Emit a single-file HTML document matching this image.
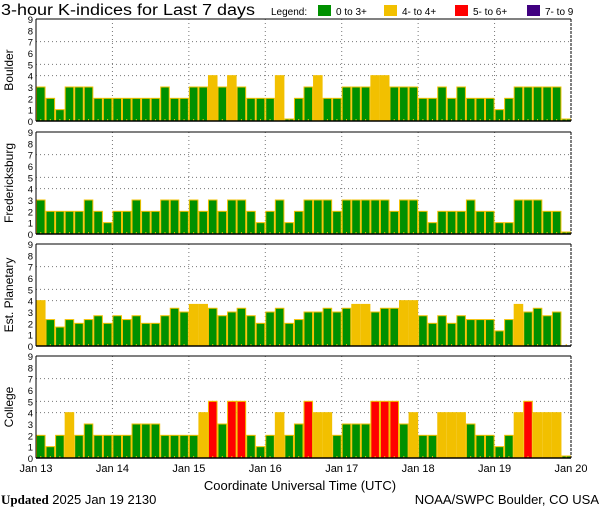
<!DOCTYPE html>
<html><head><meta charset="utf-8">
<style>
body{margin:0;background:#fff;width:600px;height:510px;overflow:hidden}
svg{display:block}
text{font-family:"Liberation Sans","DejaVu Sans",sans-serif;fill:#000}
</style></head>
<body>
<svg id="chart" width="600" height="510" viewBox="0 0 600 510" xmlns="http://www.w3.org/2000/svg">
<text x="1" y="15" font-size="15.5" textLength="254" lengthAdjust="spacingAndGlyphs">3-hour K-indices for Last 7 days</text>
<g font-size="10">
<text x="271" y="15">Legend:</text>
<rect x="318" y="5" width="13" height="11" fill="#009000"/>
<text x="336" y="15">0 to 3+</text>
<rect x="384" y="5" width="13" height="11" fill="#f2c000"/>
<text x="402" y="15">4- to 4+</text>
<rect x="455" y="5" width="13" height="11" fill="#ff0000"/>
<text x="473" y="15">5- to 6+</text>
<rect x="527" y="5" width="13" height="11" fill="#400080"/>
<text x="545" y="15">7- to 9</text>
</g>
<text x="300" y="490" font-size="13" text-anchor="middle">Coordinate Universal Time (UTC)</text>
<text x="1" y="504" font-size="13"><tspan font-family="Liberation Serif" font-weight="bold">Updated</tspan> 2025 Jan 19 2130</text>
<text x="599" y="504" font-size="13" text-anchor="end">NOAA/SWPC Boulder, CO USA</text>
</svg>
<script>
const stations = ["Boulder","Fredericksburg","Est. Planetary","College"];
const boulder = [3,2,1,3,3,3,2,2, 2,2,2,2,2,3,2,2, 3,3,4,3,4,3,2,2, 2,4,0,2,3,4,2,2, 3,3,3,4,4,3,3,3, 2,2,3,2,3,2,2,2, 1,2,3,3,3,3,3,0];
const fredericksburg = [3,2,2,2,2,3,2,1, 2,2,3,2,2,3,3,2, 3,2,3,2,3,3,2,1, 2,3,1,2,3,3,3,2, 3,3,3,3,3,2,3,3, 2,1,2,2,2,3,2,2, 1,1,3,3,3,2,2,0];
const planetary = [4,2.33,1.67,2.33,2,2.33,2.67,2, 2.67,2.33,2.67,2,2,2.67,3.33,3, 3.67,3.67,3.33,2.67,3,3.33,2.67,2, 3,3.33,2,2.33,3,3,3.33,3, 3.33,3.67,3.67,3,3.33,3.33,4,4, 2.67,2,2.67,2,2.67,2.33,2.33,2.33, 1.33,2.33,3.67,3,3.33,2.67,3,null];
const college = [2,1,2,4,2,3,2,2, 2,2,3,3,3,2,2,2, 2,4,5,3,5,5,2,1, 2,4,2,3,5,4,4,2, 3,3,3,5,5,5,3,4, 2,2,4,4,4,3,2,2, 1,2,4,5,4,4,4,0];
const dayLabels = ["Jan 13","Jan 14","Jan 15","Jan 16","Jan 17","Jan 18","Jan 19","Jan 20"];
const yTicks = [0,1,2,3,4,5,6,7,8,9];
const gridLevels = [4,5,7];

const series = [boulder, fredericksburg, planetary, college];
const NS = "http://www.w3.org/2000/svg";
const svg = document.getElementById("chart");
const X0 = 36, X1 = 571, PH = 102, tops = [19,132,244,356];
const nBars = 56;
const bw = (X1 - X0) / nBars;
function xScale(i){ return X0 + i * bw; }
function yScale(v, top){ return top + PH - v * PH / 9; }
function colorFor(v){ if (v >= 6.5) return "#400080"; if (v >= 4.5) return "#ff0000"; if (v >= 3.5) return "#f2c000"; return "#009000"; }
function mk(tag, attrs, parent){ const e = document.createElementNS(NS, tag); for (const k in attrs) e.setAttribute(k, attrs[k]); (parent||svg).appendChild(e); return e; }

series.forEach((vals, p) => {
  const top = tops[p];
  const g = mk("g", {});
  
  
  mk("rect", {x:X0, y:top, width:X1-X0, height:PH, fill:"#fff"}, g);
  gridLevels.forEach(l => {
    const ln = mk("line", {x1:X0, x2:X1, y1:yScale(l,top), y2:yScale(l,top), stroke:"#777", "stroke-dasharray":"1,3"}, g);
    
    
  });
  for (let d = 1; d < 7; d++) {
    const x = xScale(d*8);
    const ln = mk("line", {x1:x, x2:x, y1:top, y2:top+PH, stroke:"#777", "stroke-dasharray":"1,3"}, g);
    
    
  }
  vals.forEach((v, i) => {
    if (v === null) return;
    const yb = yScale(v, top);
    const h = Math.max(top + PH - yb, 2);
    const r = mk("rect", {x:xScale(i)+0.5, y:top+PH-h, width:bw-1, height:h, fill:colorFor(v), stroke:"#f2c000", "stroke-width":1}, g);
    
    
  });
  for (let i = 0; i < nBars; i++) {
    const t = mk("line", {x1:xScale(i)+bw/2, x2:xScale(i)+bw/2, y1:top+PH-2, y2:top+PH, stroke:"#f2c000", "stroke-width":1}, g);
    
    
  }
  mk("line", {x1:X0, x2:X1, y1:top, y2:top, stroke:"#000", "stroke-width":1}, g);
  mk("line", {x1:X0, x2:X1, y1:top+PH, y2:top+PH, stroke:"#000", "stroke-width":1.5}, g);
  mk("line", {x1:X0, x2:X0, y1:top, y2:top+PH, stroke:"#000", "stroke-width":1}, g);
  mk("line", {x1:X1, x2:X1, y1:top, y2:top+PH, stroke:"#000", "stroke-width":1, "stroke-dasharray":"3,1"}, g);
  yTicks.forEach(t => {
    const tx = mk("text", {x:33, y:yScale(t,top)+4, "font-size":9.5, "text-anchor":"end"}, g);
    tx.textContent = t;
    
    
  });
  const cy = top + PH/2;
  const lab = mk("text", {x:0, y:0, "font-size":12, "text-anchor":"middle", transform:"translate(13," + cy + ") rotate(-90)"}, g);
  lab.textContent = stations[p];
  
  
});
dayLabels.forEach((d, i) => {
  const tx = mk("text", {x:xScale(i*8), y:472, "font-size":11, "text-anchor":"middle"});
  tx.textContent = d;
  
  
});
</script>
</body></html>
